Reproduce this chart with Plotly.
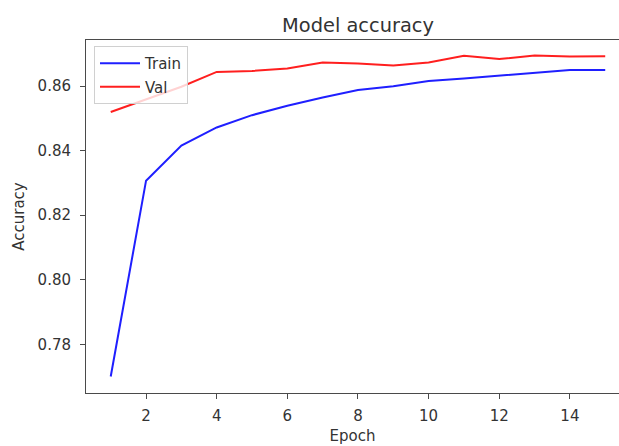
import plotly.graph_objects as go

epochs = list(range(1, 16))
train_acc = [0.7700, 0.8307, 0.8416, 0.8472, 0.8510, 0.8539, 0.8565, 0.8588,
             0.8600, 0.8616, 0.8624, 0.8632, 0.8641, 0.8650, 0.8650]
val_acc = [0.8520, 0.8558, 0.8598, 0.8644, 0.8647, 0.8655, 0.8673, 0.8670,
           0.8664, 0.8673, 0.8694, 0.8684, 0.8695, 0.8692, 0.8693]
y_ticks = [0.78, 0.80, 0.82, 0.84, 0.86]
x_ticks = [2, 4, 6, 8, 10, 12, 14]

font = "DejaVu Sans, Liberation Sans, Arial, sans-serif"
axis_col = "#4a4a4a"
text_col = "#333333"
fs = 15

fig = go.Figure()
fig.add_trace(go.Scatter(x=epochs, y=train_acc, mode="lines", name="Train",
                         legendgroup="a", line=dict(color="#1f1fff", width=2)))
fig.add_trace(go.Scatter(x=epochs, y=val_acc, mode="lines", name="Val",
                         legendgroup="b", line=dict(color="#ff1f1f", width=2)))

fig.update_layout(
    width=619, height=446,
    margin=dict(l=86, r=0, t=40, b=53, autoexpand=False),
    paper_bgcolor="white", plot_bgcolor="white",
    font=dict(family=font, size=fs, color=text_col),
    title=dict(text="Model accuracy", x=358/619, xanchor="center",
               y=1 - 25/446, yanchor="middle", xref="container", yref="container",
               font=dict(size=19.4, color=text_col)),
    showlegend=True,
    legend=dict(x=8/533, y=(393-46)/353, xanchor="left", yanchor="top",
                bgcolor="rgba(255,255,255,0.8)", bordercolor="#d0d0d0", borderwidth=1,
                font=dict(size=fs, color=text_col), tracegroupgap=1,
                itemwidth=40),
)
fig.update_xaxes(
    range=[0.3, 15.7 - 11/35.5], tickvals=x_ticks, automargin=False,
    showgrid=False, zeroline=False,
    showline=True, linecolor=axis_col, linewidth=1, mirror=True,
    ticks="outside", ticklen=5, tickcolor=axis_col, tickwidth=1,
    ticklabelstandoff=4,
    tickfont=dict(size=fs, color=text_col),
    title=dict(text="Epoch", font=dict(size=fs, color=text_col), standoff=6),
)
fig.update_yaxes(
    range=[0.7649, 0.8743], tickvals=y_ticks, tickformat=".2f", automargin=False,
    showgrid=False, zeroline=False,
    showline=True, linecolor=axis_col, linewidth=1, mirror=False,
    ticks="outside", ticklen=5, tickcolor=axis_col, tickwidth=1,
    ticklabelstandoff=6,
    tickfont=dict(size=fs, color=text_col),
    title=dict(text="Accuracy", font=dict(size=fs, color=text_col), standoff=9),
)

fig.write_html("out.html", config={"displayModeBar": False},
               post_script="document.body.style.margin='0';")
